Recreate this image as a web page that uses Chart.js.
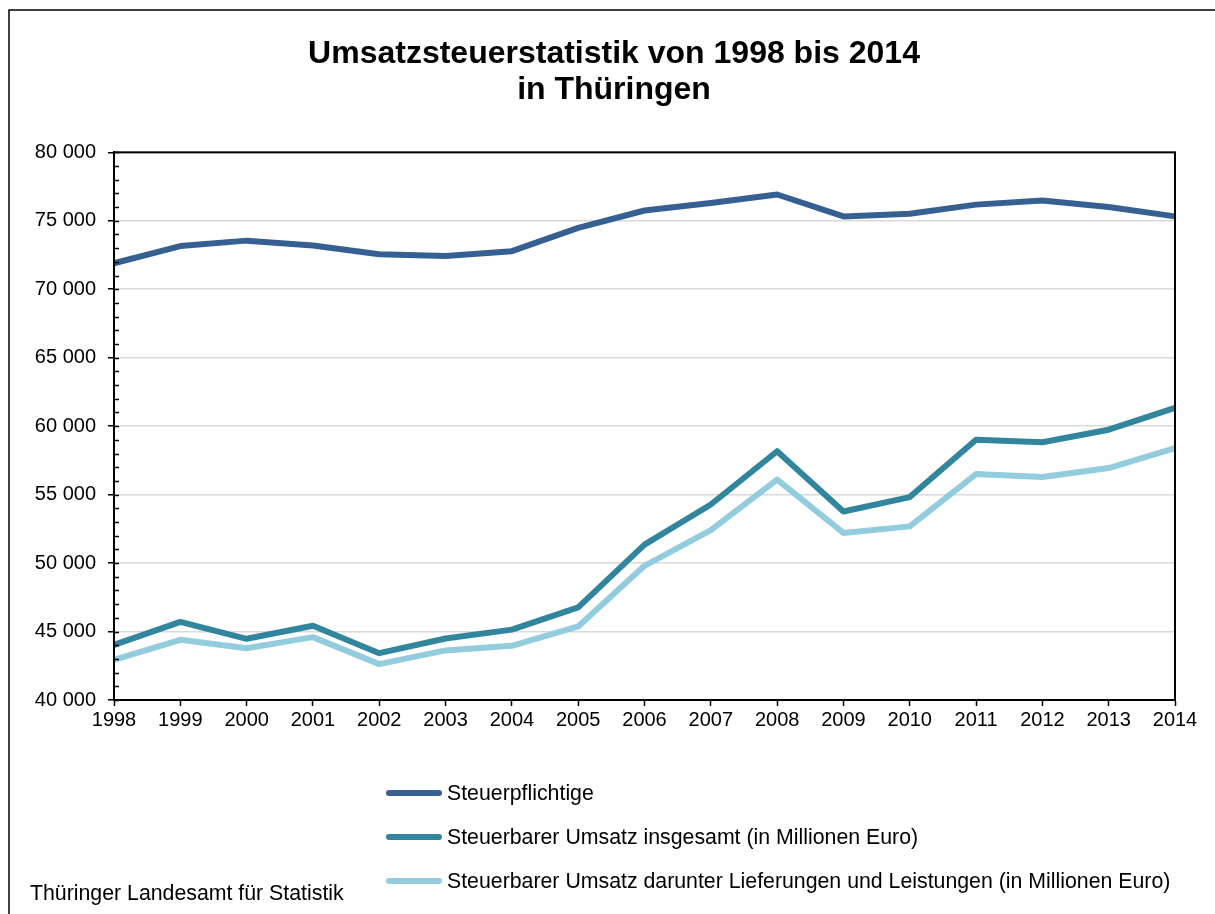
<!DOCTYPE html>
<html lang="de">
<head>
<meta charset="utf-8">
<title>Umsatzsteuerstatistik Thüringen</title>
<script src="https://cdn.jsdelivr.net/npm/chart.js@4.4.1/dist/chart.umd.min.js"></script>
<style>
    html, body { margin: 0; padding: 0; background: #fff; }
    #wrap { position: relative; width: 1215px; height: 914px; font-family: "Liberation Sans", Arial, sans-serif; }
    #chart { position: absolute; left: 0; top: 0; }
    #legend { position: absolute; left: 386px; top: 778px; margin: 0; padding: 0; list-style: none; }
    #legend li { height: 44px; display: flex; align-items: flex-start; font-size: 21.3px; color: #000; line-height: 30px; }
    #legend .swatch { display: inline-block; width: 56px; height: 6px; border-radius: 3px; margin: 12px 5px 0 0; }
    #source { position: absolute; left: 30px; top: 881px; font-size: 21.3px; color: #000; }
</style>
</head>
<body>
<div id="wrap">
    <canvas id="chart" width="1215" height="914"></canvas>
    <ul id="legend"></ul>
    <div id="source">Thüringer Landesamt für Statistik</div>
</div>
<script>
(function () {
    "use strict";

    // Data
    const years = ["1998", "1999", "2000", "2001", "2002", "2003", "2004", "2005",
        "2006", "2007", "2008", "2009", "2010", "2011", "2012", "2013", "2014"];
    const steuerpflichtige = [71900, 73150, 73550, 73200, 72550, 72420, 72780, 74480,
        75750, 76300, 76920, 75320, 75520, 76180, 76480, 76000, 75320];
    const umsatzInsgesamt = [44030, 45700, 44470, 45420, 43420, 44490, 45140, 46760,
        51350, 54280, 58170, 53770, 54820, 59010, 58820, 59740, 61340];
    const umsatzLieferungen = [42930, 44400, 43780, 44590, 42620, 43620, 43960, 45370,
        49800, 52400, 56090, 52200, 52680, 56500, 56280, 56940, 58400];
    const yTicks = [40000, 45000, 50000, 55000, 60000, 65000, 70000, 75000, 80000];

    const fmt = (v) => String(v).replace(/\B(?=(\d{3})+(?!\d))/g, " ");

    // frame, plot border and minor ticks
    const decor = {
        id: "decor",
        beforeDraw(chart) {
            const c = chart.ctx;
            c.save();
            c.strokeStyle = "#000";
            c.lineWidth = 1.5;
            c.beginPath();
            c.moveTo(9, 914);
            c.lineTo(9, 10);
            c.lineTo(1215, 10);
            c.stroke();
            c.restore();
        },
        afterDatasetsDraw(chart) {
            const c = chart.ctx;
            const a = chart.chartArea;
            const y = chart.scales.y;
            c.save();
            c.strokeStyle = "#000";
            c.lineWidth = 2;
            c.strokeRect(a.left, a.top, a.right - a.left, a.bottom - a.top);
            c.lineWidth = 1.5;
            c.beginPath();
            for (let v = y.min; v <= y.max; v += 1000) {
                const py = Math.round(y.getPixelForValue(v)) + 0.5;
                c.moveTo(a.left, py);
                c.lineTo(a.left + 5, py);
            }
            c.stroke();
            c.restore();
        },
    };

    const ds = (label, data, color) => ({
        label: label,
        data: data,
        borderColor: color,
        backgroundColor: color,
        borderWidth: 6,
        pointRadius: 0,
        tension: 0,
        borderJoinStyle: "round",
        borderCapStyle: "butt",
    });

    const chart = new Chart(document.getElementById("chart"), {
        type: "line",
        data: {
            labels: years,
            datasets: [
                ds("Steuerpflichtige", steuerpflichtige, "#376092"),
                ds("Steuerbarer Umsatz insgesamt (in Millionen Euro)", umsatzInsgesamt, "#31859c"),
                ds("Steuerbarer Umsatz darunter Lieferungen und Leistungen (in Millionen Euro)", umsatzLieferungen, "#93cddd"),
            ],
        },
        options: {
            responsive: false,
            animation: false,
            layout: { padding: { left: 20, right: 7, top: 0, bottom: 184 } },
            plugins: {
                legend: { display: false },
                tooltip: { enabled: false },
                title: {
                    display: true,
                    text: ["Umsatzsteuerstatistik von 1998 bis 2014", "in Thüringen"],
                    color: "#000",
                    font: { family: "'Liberation Sans', Arial, sans-serif", size: 32, weight: "bold", lineHeight: 1.13 },
                    padding: { top: 36, bottom: 44 },
                },
            },
            scales: {
                x: {
                    offset: false,
                    afterFit: (s) => { s.height = 30; },
                    grid: { display: true, drawOnChartArea: false, tickLength: 6, tickColor: "#000", tickWidth: 1.5 },
                    border: { display: true, color: "#000", width: 2 },
                    ticks: {
                        color: "#000",
                        autoSkip: false,
                        maxRotation: 0,
                        padding: 2,
                        font: { family: "'Liberation Sans', Arial, sans-serif", size: 20 },
                    },
                },
                y: {
                    min: 40000,
                    max: 80000,
                    afterFit: (s) => { s.width = 94; },
                    afterBuildTicks: (s) => { s.ticks = yTicks.map((v) => ({ value: v })); },
                    grid: { color: "#d9d9d9", lineWidth: 1.5, tickLength: 6, tickColor: "#000", tickWidth: 1.5 },
                    border: { display: true, color: "#000", width: 2 },
                    ticks: {
                        color: "#000",
                        padding: 12,
                        callback: (v) => fmt(v),
                        font: { family: "'Liberation Sans', Arial, sans-serif", size: 20 },
                    },
                },
                // empty right-hand gutter so the title sits where it does in the original
                gutter: {
                    type: "linear",
                    position: "right",
                    min: 40000,
                    max: 80000,
                    afterFit: (s) => { s.width = 33; },
                    grid: { display: false },
                    border: { display: false },
                    ticks: { display: false },
                },
            },
        },
        plugins: [decor],
    });

    // legend as a vertical list
    const legendEl = document.getElementById("legend");
    chart.data.datasets.forEach((d) => {
        const li = document.createElement("li");
        const sw = document.createElement("span");
        sw.className = "swatch";
        sw.style.background = d.borderColor;
        li.appendChild(sw);
        li.appendChild(document.createTextNode(d.label));
        legendEl.appendChild(li);
    });
})();
</script>
</body>
</html>
